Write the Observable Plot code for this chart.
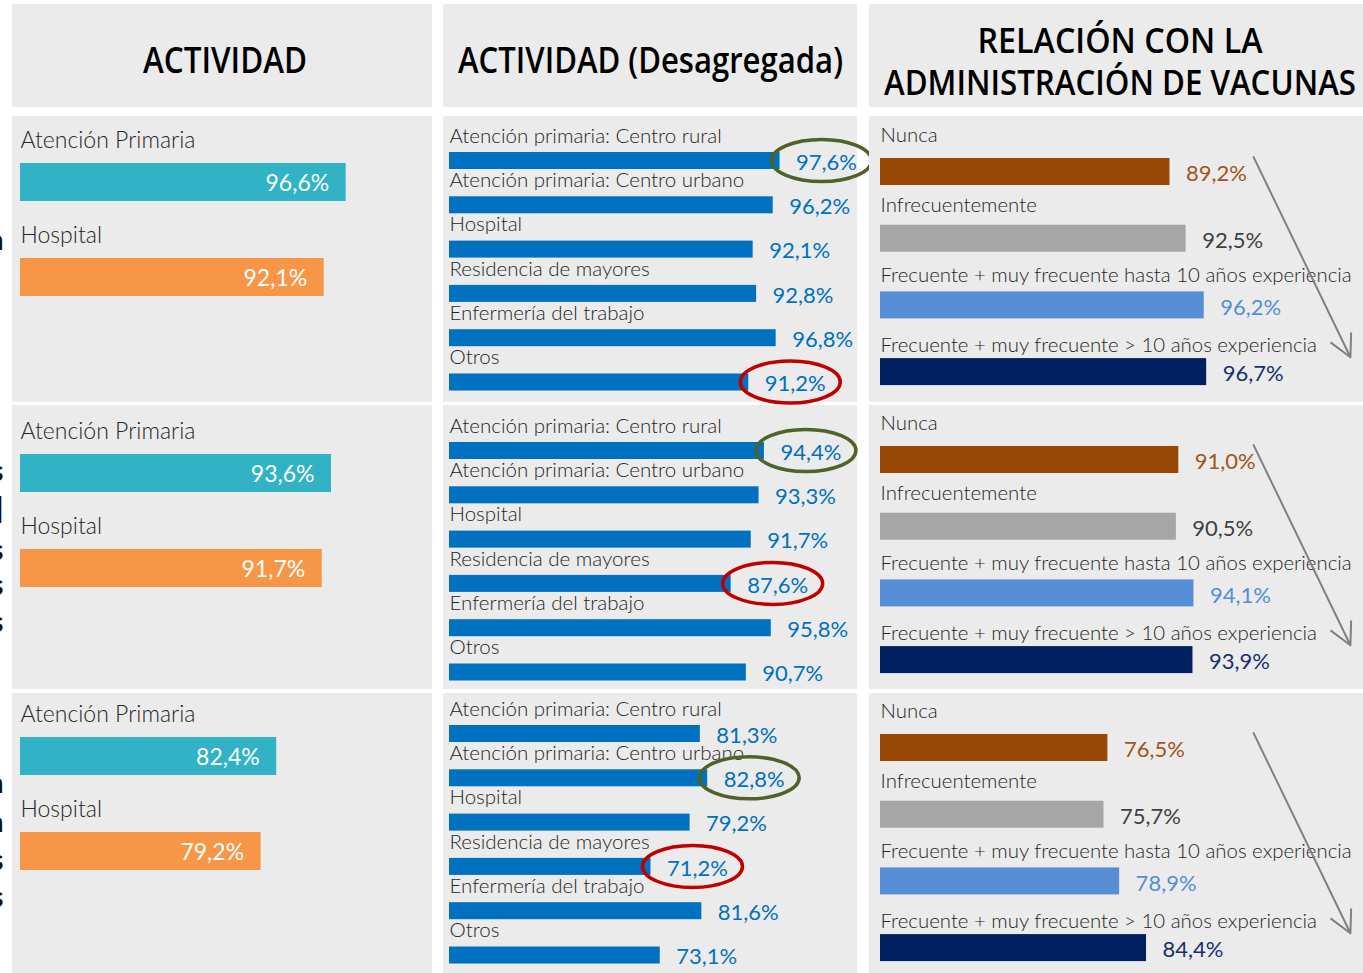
<!DOCTYPE html>
<html><head><meta charset="utf-8">
<script src="https://cdn.jsdelivr.net/npm/d3@7"></script>
<script src="https://cdn.jsdelivr.net/npm/@observablehq/plot@0.6"></script>
<style>
body{margin:0;background:#fff;}
#root{position:relative;width:1363px;height:973px;overflow:hidden;font-family:Lato,"Open Sans",sans-serif;}
.panel{position:absolute;background:#ebebeb;}
.panel svg{position:absolute;left:0;top:0;}
</style></head><body><div id="root"></div>
<script>
// ---------- data ----------
const headerTitles = ["ACTIVIDAD", "ACTIVIDAD (Desagregada)"];
const headerTitle3 = ["RELACIÓN CON LA", "ADMINISTRACIÓN DE VACUNAS"];

const actividadCats = ["Atención Primaria", "Hospital"];
const actividad1 = [96.6, 92.1];
const actividad2 = [93.6, 91.7];
const actividad3 = [82.4, 79.2];
const actividadColors = ["#31b3c5", "#f79646"];

const desagCats = ["Atención primaria: Centro rural", "Atención primaria: Centro urbano", "Hospital", "Residencia de mayores", "Enfermería del trabajo", "Otros"];
const desag1 = [97.6, 96.2, 92.1, 92.8, 96.8, 91.2];
const desag2 = [94.4, 93.3, 91.7, 87.6, 95.8, 90.7];
const desag3 = [81.3, 82.8, 79.2, 71.2, 81.6, 73.1];
const desagHigh = ["Atención primaria: Centro rural", "Atención primaria: Centro rural", "Atención primaria: Centro urbano"];
const desagLow = ["Otros", "Residencia de mayores", "Residencia de mayores"];

const vacCats = ["Nunca", "Infrecuentemente", "Frecuente + muy frecuente hasta 10 años experiencia", "Frecuente + muy frecuente > 10 años experiencia"];
const vac1 = [89.2, 92.5, 96.2, 96.7];
const vac2 = [91.0, 90.5, 94.1, 93.9];
const vac3 = [76.5, 75.7, 78.9, 84.4];
const vacBarColors = ["#974806", "#a6a6a6", "#558ed5", "#002060"];
const vacTextColors = ["#a4531a", "#404040", "#558ed5", "#17306e"];

// ---------- layout ----------
const PX = 4.89;               // pixels per percentage point
const FONT = "Lato, 'Open Sans', sans-serif";
const LABEL_W = 300;
const fmt = v => v.toFixed(1).replace(".", ",") + "%";
const cols = [{x:12, w:420}, {x:443, w:414}, {x:869, w:494}];
const rows = [{y:116, h:286}, {y:405, h:284}, {y:693, h:280}];
const header = {y:4, h:103};
const root = document.getElementById("root");

function addPanel(x, y, w, h) {
  const d = document.createElement("div");
  d.className = "panel";
  Object.assign(d.style, {left: x + "px", top: y + "px", width: w + "px", height: h + "px"});
  root.appendChild(d);
  return d;
}
const baseStyle = {background: "transparent", overflow: "visible", fontFamily: FONT, maxWidth: "none"};

function actividadPlot(values, firstBar, w, h) {
  const data = actividadCats.map((cat, i) => ({cat, v: values[i]}));
  const step = 95, barH = 38, x0 = 8, top = firstBar - (step - barH);
  return Plot.plot({
    width: w, height: h, margin: 0, style: baseStyle,
    x: {domain: [30, 100], range: [x0, x0 + 70 * PX], axis: null},
    y: {type: "band", domain: actividadCats, range: [top, top + step * actividadCats.length], padding: 0, round: false, axis: null},
    color: {domain: actividadCats, range: actividadColors},
    marks: [
      Plot.barX(data, {x1: 30, x2: "v", y: "cat", fill: "cat", insetTop: step - barH}),
      Plot.text(data, {x: 30, y: "cat", text: "cat", textAnchor: "start", lineAnchor: "bottom", dy: -6.5, fontSize: 23, fontWeight: LABEL_W, fill: "#262626"}),
      Plot.text(data, {x: "v", y: "cat", text: d => fmt(d.v), textAnchor: "end", lineAnchor: "middle", dx: -17, dy: 30, fontSize: 23, fill: "white"})
    ]
  });
}

function desagPlot(values, firstBar, w, h, hi, lo) {
  const data = desagCats.map((cat, i) => ({cat, v: values[i]}));
  const step = 44.3, barH = 17, x0 = 6, top = firstBar - (step - barH);
  const plot = Plot.plot({
    width: w, height: h, margin: 0, style: baseStyle,
    x: {domain: [30, 100], range: [x0, x0 + 70 * PX], axis: null},
    y: {type: "band", domain: desagCats, range: [top, top + step * desagCats.length], padding: 0, round: false, axis: null},
    marks: [
      Plot.barX(data, {x1: 30, x2: "v", y: "cat", fill: "#0070c0", insetTop: step - barH}),
      Plot.text(data, {x: 30, y: "cat", text: "cat", textAnchor: "start", lineAnchor: "bottom", dy: -4.5, fontSize: 20.5, fontWeight: LABEL_W, fill: "#262626"}),
      Plot.text(data, {x: "v", y: "cat", text: d => fmt(d.v), textAnchor: "start", lineAnchor: "middle", dx: 16, dy: 15.5, fontSize: 22, fill: "#0070c0"})
    ]
  });
  const xs = plot.scale("x"), ys = plot.scale("y");
  const svg = d3.select(plot);
  [[hi, "#4f6228"], [lo, "#c00000"]].forEach(([cat, color]) => {
    const v = values[desagCats.indexOf(cat)];
    svg.append("ellipse")
      .attr("cx", xs.apply(v) + 42)
      .attr("cy", ys.apply(cat) + (step - barH) + barH / 2)
      .attr("rx", 50).attr("ry", 21)
      .attr("fill", "none").attr("stroke", color).attr("stroke-width", 3.5);
  });
  return plot;
}

function vacPlot(values, firstBar, w, h) {
  const data = vacCats.map((cat, i) => ({cat, v: values[i]}));
  const step = 66.7, barH = 27, x0 = 11, top = firstBar - (step - barH);
  return Plot.plot({
    width: w, height: h, margin: 0, style: baseStyle,
    x: {domain: [30, 100], range: [x0, x0 + 70 * PX], axis: null},
    y: {type: "band", domain: vacCats, range: [top, top + step * vacCats.length], padding: 0, round: false, axis: null},
    color: {domain: vacCats, range: vacBarColors},
    marks: [
      Plot.barX(data, {x1: 30, x2: "v", y: "cat", fill: "cat", insetTop: step - barH}),
      ...data.map((d, i) => Plot.text([d], {x: 30, y: "cat", text: "cat", textAnchor: "start", lineAnchor: "bottom", dy: -10.65 + 3.4 * i, fontSize: 20.4, fontWeight: LABEL_W, fill: "#262626"})),
      ...data.map((d, i) => Plot.text([d], {x: "v", y: "cat", text: e => fmt(e.v), textAnchor: "start", lineAnchor: "middle", dx: 16, dy: 22, fontSize: 22, fill: vacTextColors[i]})),
      Plot.arrow([{from: vacCats[0], to: vacCats[vacCats.length - 1]}], {x1: 106.3, x2: 126.1, y1: "from", y2: "to", dy: 5, stroke: "#808080", strokeWidth: 2, headLength: 18, headAngle: 55})
    ]
  });
}

// ---------- build ----------
cols.forEach(c => addPanel(c.x, header.y, c.w, header.h));
const actividadRows = [actividad1, actividad2, actividad3];
const desagRows = [desag1, desag2, desag3];
const vacRows = [vac1, vac2, vac3];
const actFirst = [47, 49, 44], desFirst = [36, 37, 32], vacFirst = [42, 41, 41];
rows.forEach((r, i) => {
  addPanel(cols[0].x, r.y, cols[0].w, r.h).appendChild(actividadPlot(actividadRows[i], actFirst[i], cols[0].w, r.h));
  addPanel(cols[1].x, r.y, cols[1].w, r.h).appendChild(desagPlot(desagRows[i], desFirst[i], cols[1].w, r.h, desagHigh[i], desagLow[i]));
  addPanel(cols[2].x, r.y, cols[2].w, r.h).appendChild(vacPlot(vacRows[i], vacFirst[i], cols[2].w, r.h));
});

// ---------- header titles ----------
const ov = d3.select(root).append("svg")
  .attr("width", 1363).attr("height", 973)
  .style("position", "absolute").style("left", 0).style("top", 0).style("pointer-events", "none");
const hdr = (txt, cx, y, len, fs) => ov.append("text").text(txt)
  .attr("x", cx).attr("y", y).attr("text-anchor", "middle")
  .attr("textLength", len).attr("lengthAdjust", "spacingAndGlyphs")
  .attr("font-family", "'Open Sans', Lato, sans-serif").attr("font-weight", 600)
  .attr("font-size", fs).attr("fill", "#000");
hdr(headerTitles[0], 225, 73, 164, 36);
hdr(headerTitles[1], 650.5, 73, 385, 36);
hdr(headerTitle3[0], 1120, 53, 285, 34);
hdr(headerTitle3[1], 1120, 94.5, 472, 34);

// cut-off letters at the left edge
const frag = [["n", 250], ["s", 481], ["l", 523], ["s", 560], ["s", 595], ["s", 632], ["n", 793], ["n", 832], ["s", 870], ["s", 907]];
frag.forEach(([ch, y]) => ov.append("text").text(ch).attr("x", 3.5).attr("y", y)
  .attr("text-anchor", "end").attr("font-family", FONT).attr("font-weight", 700)
  .attr("font-size", ch === "l" ? 36 : 29).attr("fill", "#111"));
</script></body></html>
